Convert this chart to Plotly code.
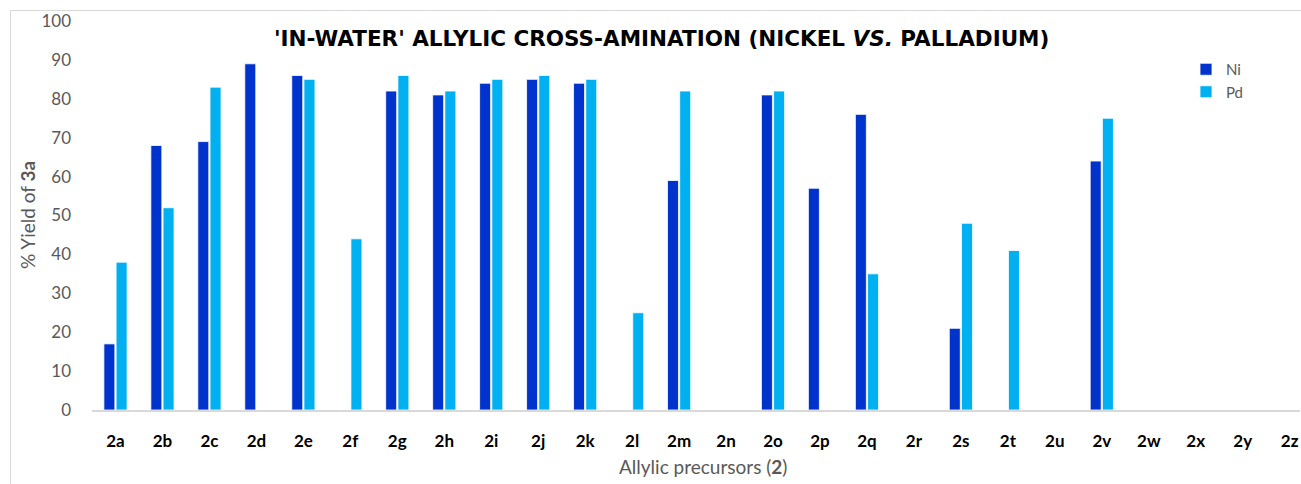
import plotly.graph_objects as go

categories = ["2a","2b","2c","2d","2e","2f","2g","2h","2i","2j","2k","2l","2m",
              "2n","2o","2p","2q","2r","2s","2t","2u","2v","2w","2x","2y","2z"]
ni_values = [17, 68, 69, 89, 86, 0, 82, 81, 84, 85, 84, 0, 59,
             0, 81, 57, 76, 0, 21, 0, 0, 64, 0, 0, 0, 0]
pd_values = [38, 52, 83, 0, 85, 44, 86, 82, 85, 86, 85, 25, 82,
             0, 82, 0, 35, 0, 48, 41, 0, 75, 0, 0, 0, 0]
y_ticks = [0, 10, 20, 30, 40, 50, 60, 70, 80, 90, 100]

W, H = 1301, 484
L, R, T, B = 92, 1, 21, 74
FONT = "Lato, 'Open Sans', sans-serif"

fig = go.Figure()
fig.add_trace(go.Bar(name="Ni", x=categories, y=ni_values,
                     marker=dict(color="#0033CC", line=dict(color="white", width=0.8))))
fig.add_trace(go.Bar(name="Pd", x=categories, y=pd_values,
                     marker=dict(color="#00B0F0", line=dict(color="white", width=0.8))))

pw = W - L - R
ph = H - T - B

def px_x(x):
    return (x - L) / pw

def px_y(y):
    return (H - B - y) / ph

fig.update_layout(
    width=W, height=H,
    margin=dict(l=L, r=R, t=T, b=B, pad=0, autoexpand=False),
    paper_bgcolor="white", plot_bgcolor="white",
    barmode="group", bargap=0.48, bargroupgap=0.1,
    font=dict(family=FONT, color="#595959", size=16),
    showlegend=True,
    legend=dict(x=px_x(1186), y=px_y(53), xanchor="left", yanchor="top",
                bgcolor="rgba(0,0,0,0)", font=dict(size=15, color="#595959"),
                itemwidth=30, tracegroupgap=0),
    xaxis=dict(
        range=[-0.5, 25.22], showgrid=False, zeroline=False,
        showline=True, linecolor="#D9D9D9", linewidth=1.5,
        ticks="", ticklabelstandoff=15, automargin=False,
        tickfont=dict(family=FONT, size=17, color="black", weight="bold"),
        fixedrange=True,
    ),
    yaxis=dict(
        range=[0, 100], tickvals=y_ticks, showgrid=False, zeroline=False,
        showline=False, ticks="", ticklabelstandoff=20, automargin=False,
        tickfont=dict(family=FONT, size=17, color="#595959"),
        fixedrange=True,
    ),
)

fig.add_annotation(
    text="'IN-WATER' ALLYLIC CROSS-AMINATION (NICKEL <i>VS.</i> PALLADIUM)",
    xref="paper", yref="paper", x=px_x(661), y=px_y(38),
    xanchor="center", yanchor="middle", showarrow=False,
    font=dict(family="'DejaVu Sans', sans-serif", size=21.5, color="black", weight="bold"),
)
fig.add_annotation(
    text="Allylic precursors (<b>2</b>)",
    xref="paper", yref="paper", x=px_x(703), y=px_y(466),
    xanchor="center", yanchor="middle", showarrow=False,
    font=dict(family=FONT, size=19, color="#595959"),
)
fig.add_annotation(
    text="% Yield of <b>3a</b>",
    xref="paper", yref="paper", x=px_x(27), y=px_y(215),
    xanchor="center", yanchor="middle", showarrow=False, textangle=-90,
    font=dict(family=FONT, size=19, color="#595959"),
)
# outer chart border (cropped on the right and bottom)
fig.add_shape(type="rect", xref="paper", yref="paper",
              x0=px_x(10.5), x1=px_x(1320), y0=px_y(10.5), y1=px_y(500),
              line=dict(color="#D9D9D9", width=1), layer="below")

fig.write_html("out.html",
               config={"displayModeBar": False},
               post_script="document.body.style.margin='0';document.body.style.padding='0';")
